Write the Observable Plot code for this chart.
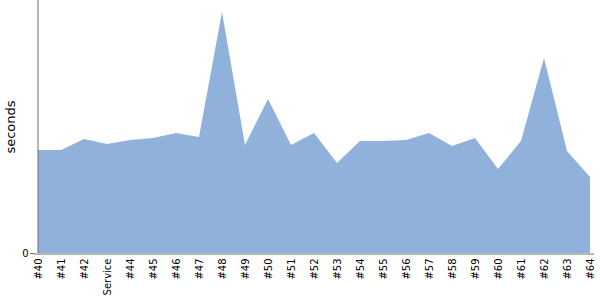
<!DOCTYPE html>
<html>
<head>
<meta charset="utf-8">
<script src="https://cdn.jsdelivr.net/npm/d3@7"></script>
<script src="https://cdn.jsdelivr.net/npm/@observablehq/plot@0.6"></script>
<style>
  html, body { margin: 0; padding: 0; background: #fff; overflow: hidden; }
  svg { display: block; font-family: "DejaVu Sans", sans-serif; }
</style>
</head>
<body>
<div id="chart"></div>
<script>
const builds = ["#40","#41","#42","Service","#44","#45","#46","#47","#48","#49","#50","#51","#52","#53","#54","#55","#56","#57","#58","#59","#60","#61","#62","#63","#64"];
const seconds = [103,103,114,109,113,115,120,116,241,108,154,108,120,90,112,112,113,120,107,115,84,112,195,102,76];
const yTicks = [0];
const yLabel = "seconds";

const data = builds.map((b, i) => ({build: b, seconds: seconds[i]}));

const chart = Plot.plot({
  width: 600,
  height: 300,
  marginLeft: 34,
  marginRight: 6,
  marginTop: 0,
  marginBottom: 47,
  style: {fontFamily: "DejaVu Sans, sans-serif", fontSize: "10px", color: "#000"},
  x: {type: "point", domain: builds, padding: 0, range: [34, 594]},
  y: {domain: [0, 253], range: [253, 0]},
  marks: [
    Plot.areaY(data, {x: "build", y: "seconds", fill: "#8fb1da", curve: "linear"}),
    Plot.ruleY([0], {stroke: "#6e6e6e", dy: 0.5}),
    Plot.ruleX([builds[0]], {stroke: "#6e6e6e", dx: -0.5}),
    Plot.axisX({tickSize: 0, tickPadding: 5, tickRotate: -90, label: null, fontSize: 10}),
    Plot.axisY({ticks: yTicks, tickSize: 4, tickPadding: 2, stroke: "#6e6e6e", label: null, fontSize: 10}),
    Plot.text([yLabel], {frameAnchor: "left", textAnchor: "middle", rotate: -90, dx: -24, fontSize: 13, fill: "#000"})
  ]
});
document.getElementById("chart").appendChild(chart);
</script>
</body>
</html>
